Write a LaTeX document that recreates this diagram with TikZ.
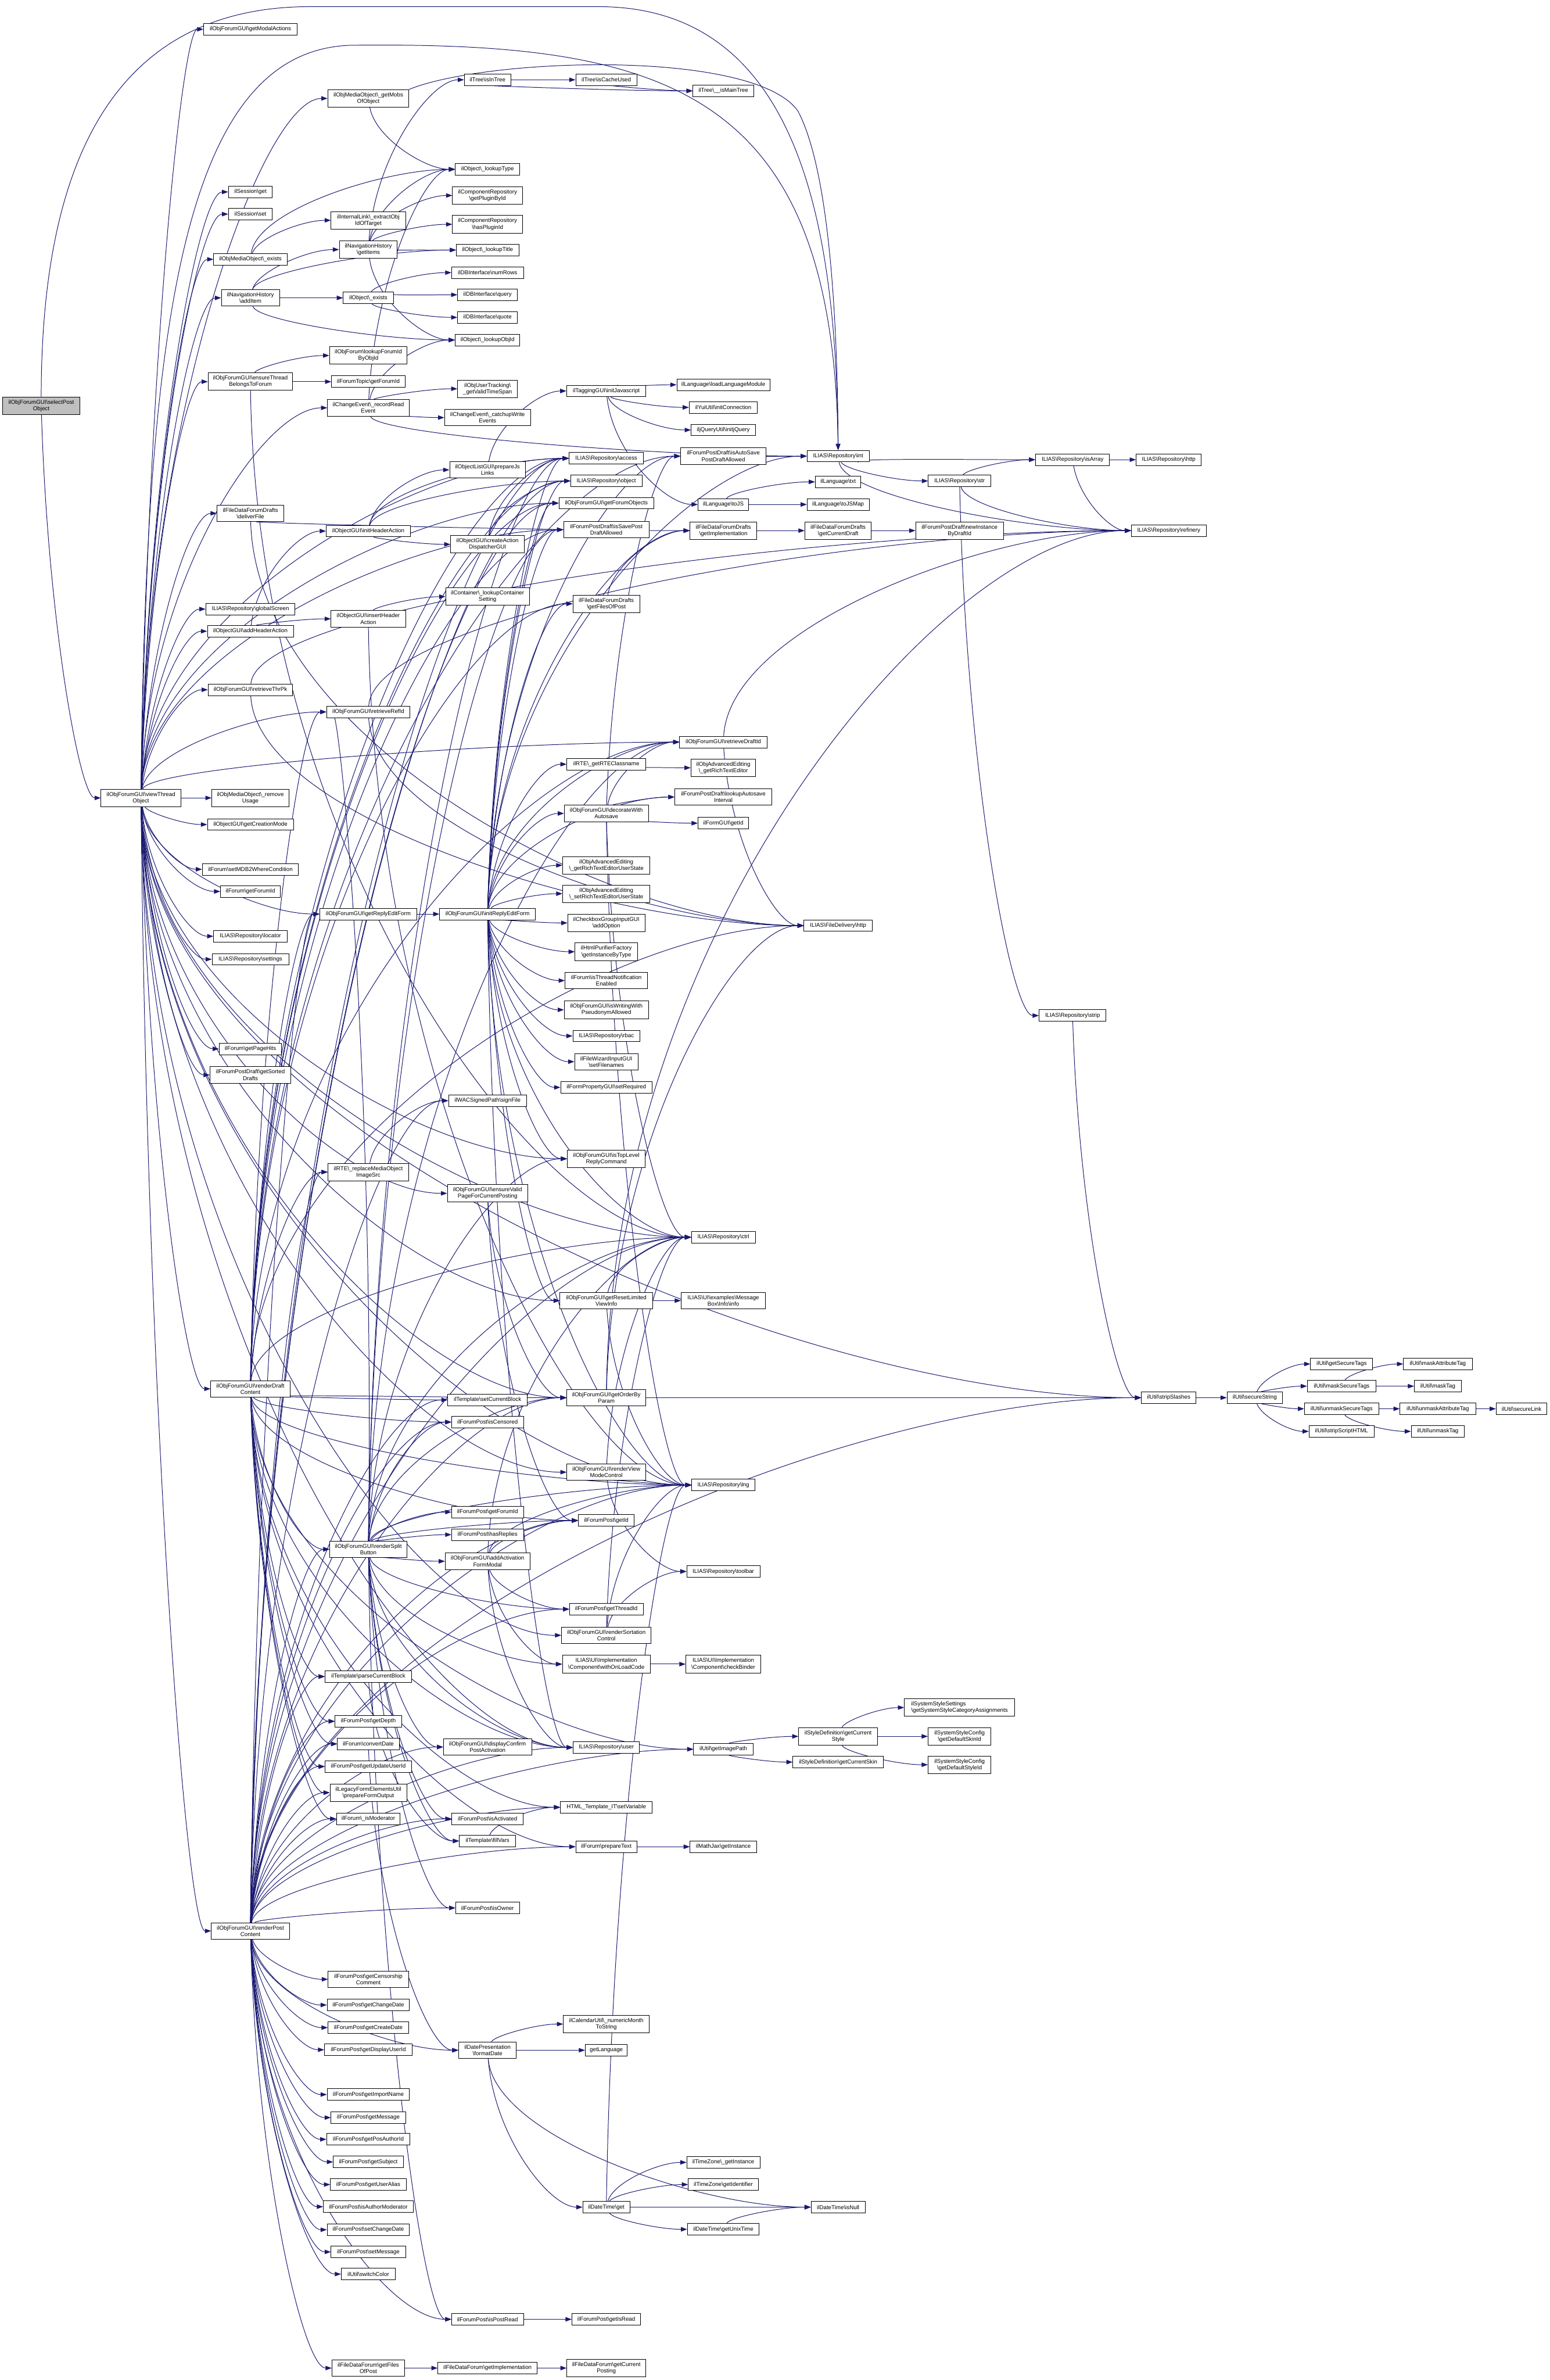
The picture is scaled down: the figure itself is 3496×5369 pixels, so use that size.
\documentclass[tikz,border=0pt]{standalone}
\usepackage{fontspec}
\setmainfont{Liberation Sans}
\usetikzlibrary{arrows.meta,calc}
\pgfdeclarelayer{bg}
\pgfsetlayers{bg,main}
\definecolor{edgeblue}{HTML}{191970}
\definecolor{rootgray}{HTML}{BFBFBF}
\newcommand\bsl{\textbackslash}
\newcommand\nodefont{\fontsize{12.8}{14.6}\selectfont}
\newcommand\dnode[5]{\node[box,minimum width=#4pt] (#1) at (#2,#3) {#5};}
\newcommand\calls[2]{\foreach \tg in {#2}{\draw[edge] (#1) to (\tg);}}
\begin{document}
\begin{tikzpicture}[x=1pt,y=-1pt,
  box/.style={draw=black,fill=white,line width=1.2pt,font=\nodefont,align=center,inner xsep=3pt,inner ysep=6.5pt,minimum height=26pt},
  edgeplain/.style={draw=edgeblue,line width=1.3pt,-{Triangle[length=14pt,width=10pt]}},
  edge/.style={edgeplain,to path={.. controls ($(\tikztostart)!0.55!(\tikztostart |- \tikztotarget.west)+(15,0)$) and ($(\tikztotarget.west)!0.35!(\tikztostart |- \tikztotarget.west)$) .. (\tikztotarget.west)}}]
\useasboundingbox (0,0) rectangle (3496,5369);
% column 1-2
\node[box,fill=rootgray,minimum width=175pt] (root) at (93,915) {ilObjForumGUI\bsl selectPost\\Object};
\dnode{vt}{318}{1800}{180}{ilObjForumGUI\bsl viewThread\\Object}
% column 3
\dnode{getModal}{565}{66}{211}{ilObjForumGUI\bsl getModalActions}
\dnode{sessGet}{565}{433}{99}{ilSession\bsl get}
\dnode{sessSet}{565}{483}{99}{ilSession\bsl set}
\dnode{mobExists}{565}{585}{166}{ilObjMediaObject\bsl\_exists}
\dnode{addItem}{565}{672}{131}{ilNavigationHistory\\\bsl addItem}
\dnode{ensureThread}{565}{861}{191}{ilObjForumGUI\bsl ensureThread\\BelongsToForum}
\dnode{deliverFile}{565}{1158}{151}{ilFileDataForumDrafts\\\bsl deliverFile}
\dnode{globalScreen}{565}{1374}{201}{ILIAS\bsl Repository\bsl globalScreen}
\dnode{addHeader}{565}{1424}{194}{ilObjectGUI\bsl addHeaderAction}
\dnode{thrPk}{565}{1556}{191}{ilObjForumGUI\bsl retrieveThrPk}
\dnode{removeUsage}{565}{1800}{174}{ilObjMediaObject\bsl\_remove\\Usage}
\dnode{creationMode}{565}{1860}{194}{ilObjectGUI\bsl getCreationMode}
\dnode{mdb2}{565}{1961}{217}{ilForum\bsl setMDB2WhereCondition}
\dnode{forumGetForumId}{565}{2011}{135}{ilForum\bsl getForumId}
\dnode{locator}{565}{2112}{166}{ILIAS\bsl Repository\bsl locator}
\dnode{settings}{565}{2164}{173}{ILIAS\bsl Repository\bsl settings}
\dnode{pageHits}{565}{2366}{141}{ilForum\bsl getPageHits}
\dnode{sortedDrafts}{565}{2425}{182}{ilForumPostDraft\bsl getSorted\\Drafts}
\dnode{renderDraft}{565}{3133}{179}{ilObjForumGUI\bsl renderDraft\\Content}
\dnode{renderPost}{565}{4356}{176}{ilObjForumGUI\bsl renderPost\\Content}
% column 4
\dnode{getMobs}{831}{222}{183}{ilObjMediaObject\bsl\_getMobs\\OfObject}
\dnode{extractObj}{831}{497}{168}{ilInternalLink\bsl\_extractObj\\IdOfTarget}
\dnode{getItems}{831}{563}{131}{ilNavigationHistory\\\bsl getItems}
\dnode{objExists}{831}{672}{113}{ilObject\bsl\_exists}
\dnode{lookupForumId}{831}{802}{175}{ilObjForum\bsl lookupForumId\\ByObjId}
\dnode{topicForumId}{831}{861}{166}{ilForumTopic\bsl getForumId}
\dnode{recordRead}{831}{920}{184}{ilChangeEvent\bsl\_recordRead\\Event}
\dnode{initHeader}{831}{1198}{190}{ilObjectGUI\bsl initHeaderAction}
\dnode{insertHeader}{831}{1396}{168}{ilObjectGUI\bsl insertHeader\\Action}
\dnode{refId}{831}{1606}{188}{ilObjForumGUI\bsl retrieveRefId}
\dnode{getReplyEdit}{831}{2062}{219}{ilObjForumGUI\bsl getReplyEditForm}
\dnode{replaceMob}{831}{2644}{182}{ilRTE\bsl\_replaceMediaObject\\ImageSrc}
\dnode{renderSplit}{831}{3495}{174}{ilObjForumGUI\bsl renderSplit\\Button}
\dnode{parseBlock}{831}{3782}{195}{ilTemplate\bsl parseCurrentBlock}
\dnode{getDepth}{831}{3883}{150}{ilForumPost\bsl getDepth}
\dnode{convertDate}{831}{3934}{139}{ilForum\bsl convertDate}
\dnode{updateUser}{831}{3985}{195}{ilForumPost\bsl getUpdateUserId}
\dnode{prepForm}{831}{4044}{173}{ilLegacyFormElementsUtil\\\bsl prepareFormOutput}
\dnode{isModerator}{831}{4103}{143}{ilForum\bsl\_isModerator}
\dnode{censorship}{831}{4465}{181}{ilForumPost\bsl getCensorship\\Comment}
\dnode{getChangeDate}{831}{4523}{186}{ilForumPost\bsl getChangeDate}
\dnode{getCreateDate}{831}{4574}{182}{ilForumPost\bsl getCreateDate}
\dnode{displayUser}{831}{4624}{198}{ilForumPost\bsl getDisplayUserId}
\dnode{importName}{831}{4725}{186}{ilForumPost\bsl getImportName}
\dnode{getMessage}{831}{4777}{168}{ilForumPost\bsl getMessage}
\dnode{posAuthor}{831}{4826}{188}{ilForumPost\bsl getPosAuthorId}
\dnode{getSubject}{831}{4877}{158}{ilForumPost\bsl getSubject}
\dnode{userAlias}{831}{4928}{171}{ilForumPost\bsl getUserAlias}
\dnode{isAuthorMod}{831}{4978}{203}{ilForumPost\bsl isAuthorModerator}
\dnode{setChangeDate}{831}{5030}{186}{ilForumPost\bsl setChangeDate}
\dnode{setMessage}{831}{5080}{168}{ilForumPost\bsl setMessage}
\dnode{switchColor}{831}{5130}{122}{ilUtil\bsl switchColor}
\dnode{filesOfPost}{831}{5342}{164}{ilFileDataForum\bsl getFiles\\OfPost}
% column 5
\dnode{isInTree}{1100}{180}{105}{ilTree\bsl isInTree}
\dnode{lookupType}{1100}{382}{145}{ilObject\bsl\_lookupType}
\dnode{pluginById}{1100}{441}{158}{ilComponentRepository\\\bsl getPluginById}
\dnode{hasPlugin}{1100}{506}{158}{ilComponentRepository\\\bsl hasPluginId}
\dnode{lookupTitle}{1100}{564}{141}{ilObject\bsl\_lookupTitle}
\dnode{numRows}{1100}{615}{162}{ilDBInterface\bsl numRows}
\dnode{query}{1100}{665}{135}{ilDBInterface\bsl query}
\dnode{quote}{1100}{716}{135}{ilDBInterface\bsl quote}
\dnode{lookupObjId}{1100}{767}{146}{ilObject\bsl\_lookupObjId}
\dnode{validTime}{1100}{877}{135}{ilObjUserTracking\bsl\\\_getValidTimeSpan}
\dnode{catchup}{1100}{942}{194}{ilChangeEvent\bsl\_catchupWrite\\Events}
\dnode{prepareJs}{1100}{1060}{171}{ilObjectListGUI\bsl prepareJs\\Links}
\dnode{createAD}{1100}{1228}{166}{ilObjectGUI\bsl createAction\\DispatcherGUI}
\dnode{containerSetting}{1100}{1346}{189}{ilContainer\bsl\_lookupContainer\\Setting}
\dnode{initReply}{1100}{2062}{216}{ilObjForumGUI\bsl initReplyEditForm}
\dnode{signFile}{1100}{2483}{176}{ilWACSignedPath\bsl signFile}
\dnode{ensureValid}{1100}{2692}{181}{ilObjForumGUI\bsl ensureValid\\PageForCurrentPosting}
\dnode{setCurBlock}{1100}{3158}{179}{ilTemplate\bsl setCurrentBlock}
\dnode{isCensored}{1100}{3208}{162}{ilForumPost\bsl isCensored}
\dnode{postForumId}{1100}{3411}{162}{ilForumPost\bsl getForumId}
\dnode{hasReplies}{1100}{3462}{162}{ilForumPost\bsl hasReplies}
\dnode{addActivation}{1100}{3522}{191}{ilObjForumGUI\bsl addActivation\\FormModal}
\dnode{confirmActivation}{1100}{3941}{199}{ilObjForumGUI\bsl displayConfirm\\PostActivation}
\dnode{isActivated}{1100}{4103}{161}{ilForumPost\bsl isActivated}
\dnode{fillVars}{1100}{4153}{127}{ilTemplate\bsl fillVars}
\dnode{isOwner}{1100}{4304}{144}{ilForumPost\bsl isOwner}
\dnode{formatDate}{1100}{4625}{130}{ilDatePresentation\\\bsl formatDate}
\dnode{isPostRead}{1100}{5232}{162}{ilForumPost\bsl isPostRead}
\dnode{fdfImpl}{1100}{5342}{224}{ilFileDataForum\bsl getImplementation}
% column 6
\dnode{cacheUsed}{1368}{180}{138}{ilTree\bsl isCacheUsed}
\dnode{initJs}{1368}{882}{179}{ilTaggingGUI\bsl initJavascript}
\dnode{access}{1368}{1034}{168}{ILIAS\bsl Repository\bsl access}
\dnode{object}{1368}{1085}{161}{ILIAS\bsl Repository\bsl object}
\dnode{forumObjects}{1368}{1135}{214}{ilObjForumGUI\bsl getForumObjects}
\dnode{isSaveDraft}{1368}{1195}{193}{ilForumPostDraft\bsl isSavePost\\DraftAllowed}
\dnode{draftsFiles}{1368}{1362}{151}{ilFileDataForumDrafts\\\bsl getFilesOfPost}
\dnode{rteClass}{1368}{1724}{178}{ilRTE\bsl\_getRTEClassname}
\dnode{decorate}{1368}{1835}{190}{ilObjForumGUI\bsl decorateWith\\Autosave}
\dnode{rteUserState}{1368}{1952}{197}{ilObjAdvancedEditing\\\bsl\_getRichTextEditorUserState}
\dnode{setRteUserState}{1368}{2016}{197}{ilObjAdvancedEditing\\\bsl\_setRichTextEditorUserState}
\dnode{addOption}{1368}{2082}{174}{ilCheckboxGroupInputGUI\\\bsl addOption}
\dnode{purifier}{1368}{2147}{141}{ilHtmlPurifierFactory\\\bsl getInstanceByType}
\dnode{threadNotif}{1368}{2212}{186}{ilForum\bsl isThreadNotification\\Enabled}
\dnode{pseudonym}{1368}{2278}{190}{ilObjForumGUI\bsl isWritingWith\\PseudonymAllowed}
\dnode{rbac}{1368}{2337}{151}{ILIAS\bsl Repository\bsl rbac}
\dnode{setFilenames}{1368}{2395}{143}{ilFileWizardInputGUI\\\bsl setFilenames}
\dnode{setRequired}{1368}{2453}{206}{ilFormPropertyGUI\bsl setRequired}
\dnode{topLevel}{1368}{2614}{176}{ilObjForumGUI\bsl isTopLevel\\ReplyCommand}
\dnode{resetLimited}{1368}{2934}{209}{ilObjForumGUI\bsl getResetLimited\\ViewInfo}
\dnode{orderBy}{1368}{3153}{178}{ilObjForumGUI\bsl getOrderBy\\Param}
\dnode{viewMode}{1368}{3321}{178}{ilObjForumGUI\bsl renderView\\ModeControl}
\dnode{postGetId}{1368}{3430}{126}{ilForumPost\bsl getId}
\dnode{threadId}{1368}{3630}{166}{ilForumPost\bsl getThreadId}
\dnode{sortation}{1368}{3689}{202}{ilObjForumGUI\bsl renderSortation\\Control}
\dnode{onLoad}{1368}{3754}{198}{ILIAS\bsl UI\bsl Implementation\\\bsl Component\bsl withOnLoadCode}
\dnode{user}{1368}{3942}{150}{ILIAS\bsl Repository\bsl user}
\dnode{setVariable}{1368}{4077}{207}{HTML\_Template\_IT\bsl setVariable}
\dnode{prepareText}{1368}{4166}{138}{ilForum\bsl prepareText}
\dnode{monthToString}{1368}{4566}{194}{ilCalendarUtil\bsl\_numericMonth\\ToString}
\dnode{getLanguage}{1368}{4625}{95}{getLanguage}
\dnode{dtGet}{1368}{4979}{106}{ilDateTime\bsl get}
\dnode{getIsRead}{1368}{5232}{155}{ilForumPost\bsl getIsRead}
\dnode{currentPosting}{1368}{5342}{178}{ilFileDataForum\bsl getCurrent\\Posting}
% column 7
\dnode{mainTree}{1632}{205}{137}{ilTree\bsl\_\_isMainTree}
\dnode{loadLang}{1632}{868}{210}{ilLanguage\bsl loadLanguageModule}
\dnode{initConn}{1632}{919}{154}{ilYuiUtil\bsl initConnection}
\dnode{initjQuery}{1632}{970}{145}{iljQueryUtil\bsl initjQuery}
\dnode{isAutoSave}{1632}{1029}{192}{ilForumPostDraft\bsl isAutoSave\\PostDraftAllowed}
\dnode{toJS}{1632}{1138}{114}{ilLanguage\bsl toJS}
\dnode{draftsImpl}{1632}{1197}{150}{ilFileDataForumDrafts\\\bsl getImplementation}
\dnode{draftId}{1632}{1674}{197}{ilObjForumGUI\bsl retrieveDraftId}
\dnode{richEditor}{1632}{1732}{146}{ilObjAdvancedEditing\\\bsl\_getRichTextEditor}
\dnode{autosaveInterval}{1632}{1798}{219}{ilForumPostDraft\bsl lookupAutosave\\Interval}
\dnode{formGetId}{1632}{1857}{114}{ilFormGUI\bsl getId}
\dnode{ctrl}{1632}{2791}{144}{ILIAS\bsl Repository\bsl ctrl}
\dnode{msgInfo}{1632}{2934}{190}{ILIAS\bsl UI\bsl examples\bsl Message\\Box\bsl Info\bsl info}
\dnode{lng}{1632}{3350}{142}{ILIAS\bsl Repository\bsl lng}
\dnode{toolbar}{1632}{3545}{165}{ILIAS\bsl Repository\bsl toolbar}
\dnode{checkBinder}{1632}{3754}{169}{ILIAS\bsl UI\bsl Implementation\\\bsl Component\bsl checkBinder}
\dnode{imagePath}{1632}{3946}{134}{ilUtil\bsl getImagePath}
\dnode{mathJax}{1632}{4166}{150}{ilMathJax\bsl getInstance}
\dnode{tzInstance}{1632}{4878}{165}{ilTimeZone\bsl\_getInstance}
\dnode{tzIdent}{1632}{4928}{158}{ilTimeZone\bsl getIdentifier}
\dnode{unixTime}{1632}{5029}{162}{ilDateTime\bsl getUnixTime}
% column 8
\dnode{int}{1891}{1029}{140}{ILIAS\bsl Repository\bsl int}
\dnode{txt}{1891}{1087}{103}{ilLanguage\bsl txt}
\dnode{toJSMap}{1891}{1138}{140}{ilLanguage\bsl toJSMap}
\dnode{currentDraft}{1891}{1197}{150}{ilFileDataForumDrafts\\\bsl getCurrentDraft}
\dnode{fdHttp}{1891}{2088}{154}{ILIAS\bsl FileDelivery\bsl http}
\dnode{curStyle}{1891}{3917}{178}{ilStyleDefinition\bsl getCurrent\\Style}
\dnode{curSkin}{1891}{3975}{204}{ilStyleDefinition\bsl getCurrentSkin}
\dnode{isNull}{1891}{4979}{122}{ilDateTime\bsl isNull}
% column 9+
\dnode{str}{2165}{1085}{141}{ILIAS\bsl Repository\bsl str}
\dnode{newInstance}{2165}{1197}{198}{ilForumPostDraft\bsl newInstance\\ByDraftId}
\node[box,align=left,minimum width=249pt] (sysSettings) at (2165,3852) {ilSystemStyleSettings\\\bsl getSystemStyleCategoryAssignments};
\dnode{skinId}{2165}{3917}{142}{ilSystemStyleConfig\\\bsl getDefaultSkinId}
\dnode{styleId}{2165}{3981}{142}{ilSystemStyleConfig\\\bsl getDefaultStyleId}
\dnode{isArray}{2420}{1037}{167}{ILIAS\bsl Repository\bsl isArray}
\dnode{strip}{2420}{2291}{151}{ILIAS\bsl Repository\bsl strip}
\dnode{repHttp}{2637}{1037}{147}{ILIAS\bsl Repository\bsl http}
\dnode{refinery}{2637}{1197}{169}{ILIAS\bsl Repository\bsl refinery}
\dnode{stripSlashes}{2637}{3153}{123}{ilUtil\bsl stripSlashes}
\dnode{secureString}{2831}{3153}{125}{ilUtil\bsl secureString}
\dnode{getSecureTags}{3027}{3077}{140}{ilUtil\bsl getSecureTags}
\dnode{maskSecureTags}{3027}{3127}{155}{ilUtil\bsl maskSecureTags}
\dnode{unmaskSecureTags}{3027}{3178}{168}{ilUtil\bsl unmaskSecureTags}
\dnode{stripScriptHTML}{3027}{3229}{147}{ilUtil\bsl stripScriptHTML}
\dnode{maskAttr}{3244}{3077}{155}{ilUtil\bsl maskAttributeTag}
\dnode{maskTag}{3244}{3127}{106}{ilUtil\bsl maskTag}
\dnode{unmaskAttr}{3244}{3178}{171}{ilUtil\bsl unmaskAttributeTag}
\dnode{unmaskTag}{3244}{3229}{120}{ilUtil\bsl unmaskTag}
\dnode{secureLink}{3433}{3178}{115}{ilUtil\bsl secureLink}
% edges
\begin{pgfonlayer}{bg}
\draw[edgeplain] (root.north) .. controls (93,300) and (300,15) .. (700,15) -- (1350,15) .. controls (1800,15) and (1887,500) .. (int.north);
\draw[edgeplain] (vt.north) .. controls (330,700) and (420,105) .. (800,102) .. controls (1500,95) and (1880,200) .. (int.north);
\draw[edgeplain] (getMobs.north east) .. controls (1100,130) and (1700,110) .. (1800,250) .. controls (1880,400) and (1890,800) .. (int.north);
\calls{root}{vt}
\calls{vt}{getModal,getMobs,access,forumObjects,isSaveDraft,sessGet,sessSet,mobExists,addItem,ensureThread,recordRead,deliverFile,globalScreen,addHeader,thrPk,refId,removeUsage,creationMode,mdb2,forumGetForumId,getReplyEdit,locator,settings,pageHits,sortedDrafts,renderDraft,renderPost,stripSlashes,ctrl,lng,user,orderBy,viewMode,sortation,resetLimited,ensureValid,draftId,topLevel}
\calls{getMobs}{lookupType}
\calls{mobExists}{extractObj,lookupType}
\calls{addItem}{getItems,objExists,lookupTitle,lookupObjId}
\calls{getItems}{isInTree,lookupType,pluginById,hasPlugin,lookupTitle,lookupObjId}
\calls{objExists}{numRows,query,quote}
\calls{ensureThread}{lookupForumId,topicForumId,ctrl}
\calls{recordRead}{lookupType,lookupObjId,validTime,catchup,int}
\calls{isInTree}{cacheUsed,mainTree}
\calls{cacheUsed}{mainTree}
\calls{deliverFile}{fdHttp,draftsImpl}
\calls{addHeader}{initHeader,insertHeader}
\calls{initHeader}{prepareJs,access,object,createAD}
\calls{insertHeader}{containerSetting,lng}
\calls{prepareJs}{initJs}
\calls{createAD}{access,object}
\calls{initJs}{loadLang,initConn,initjQuery,toJS}
\calls{toJS}{txt,toJSMap}
\calls{isAutoSave}{int}
\calls{draftsFiles}{draftsImpl}
\calls{draftsImpl}{currentDraft}
\calls{currentDraft}{newInstance}
\calls{int}{isArray,str,refinery}
\calls{str}{isArray,refinery,strip}
\calls{isArray}{repHttp,refinery}
\calls{strip}{stripSlashes}
\calls{stripSlashes}{secureString}
\calls{secureString}{getSecureTags,maskSecureTags,unmaskSecureTags,stripScriptHTML}
\calls{maskSecureTags}{maskAttr,maskTag}
\calls{unmaskSecureTags}{unmaskAttr,unmaskTag}
\calls{unmaskAttr}{secureLink}
\calls{thrPk}{fdHttp,refinery}
\calls{refId}{fdHttp,refinery}
\calls{draftId}{fdHttp,refinery}
\calls{getReplyEdit}{initReply}
\calls{initReply}{rteClass,decorate,rteUserState,setRteUserState,addOption,purifier,threadNotif,pseudonym,rbac,setFilenames,setRequired,topLevel,draftId,access,object,forumObjects,isSaveDraft,draftsFiles,isAutoSave,draftsImpl,autosaveInterval,ctrl,lng,user,int,resetLimited}
\calls{rteClass}{richEditor}
\calls{decorate}{draftId,autosaveInterval,formGetId,ctrl,lng,isAutoSave}
\calls{resetLimited}{msgInfo,ctrl,lng}
\calls{orderBy}{fdHttp,refinery,stripSlashes}
\calls{viewMode}{lng,toolbar,ctrl}
\calls{sortation}{toolbar,lng,ctrl}
\calls{addActivation}{postGetId,threadId,lng,ctrl,onLoad,user}
\calls{onLoad}{checkBinder}
\calls{imagePath}{curStyle,curSkin}
\calls{curStyle}{sysSettings,skinId,styleId}
\calls{renderDraft}{renderSplit,parseBlock,getDepth,convertDate,updateUser,prepForm,setCurBlock,isCensored,orderBy,getReplyEdit,replaceMob,draftId,draftsFiles,access,object,forumObjects,isSaveDraft,isAutoSave,refId,ctrl,lng,user,setVariable,prepareText,imagePath,fdHttp,isModerator,postGetId}
\calls{renderSplit}{postForumId,hasReplies,addActivation,postGetId,threadId,confirmActivation,isActivated,isOwner,fillVars,ctrl,lng,user,topLevel,orderBy,isCensored,onLoad,isPostRead,access,isSaveDraft,refId,draftId}
\calls{renderPost}{censorship,getChangeDate,getCreateDate,displayUser,importName,getMessage,posAuthor,getSubject,userAlias,isAuthorMod,setChangeDate,setMessage,switchColor,filesOfPost,isModerator,prepForm,renderSplit,isActivated,isOwner,formatDate,isPostRead,prepareText,setVariable,user,imagePath,stripSlashes,convertDate,getDepth,updateUser,parseBlock,setCurBlock,isCensored,postGetId,threadId,replaceMob,signFile,orderBy,ctrl,lng,access,object,forumObjects,confirmActivation,getReplyEdit}
\calls{replaceMob}{signFile}
\calls{ensureValid}{orderBy,postGetId}
\calls{parseBlock}{fillVars}
\calls{convertDate}{formatDate}
\calls{fillVars}{setVariable}
\calls{prepareText}{mathJax}
\calls{formatDate}{monthToString,getLanguage,dtGet,isNull}
\calls{dtGet}{tzInstance,tzIdent,isNull,unixTime,lng}
\calls{unixTime}{isNull}
\calls{isPostRead}{getIsRead}
\calls{filesOfPost}{fdfImpl}
\calls{fdfImpl}{currentPosting}
\end{pgfonlayer}
\end{tikzpicture}
\end{document}
